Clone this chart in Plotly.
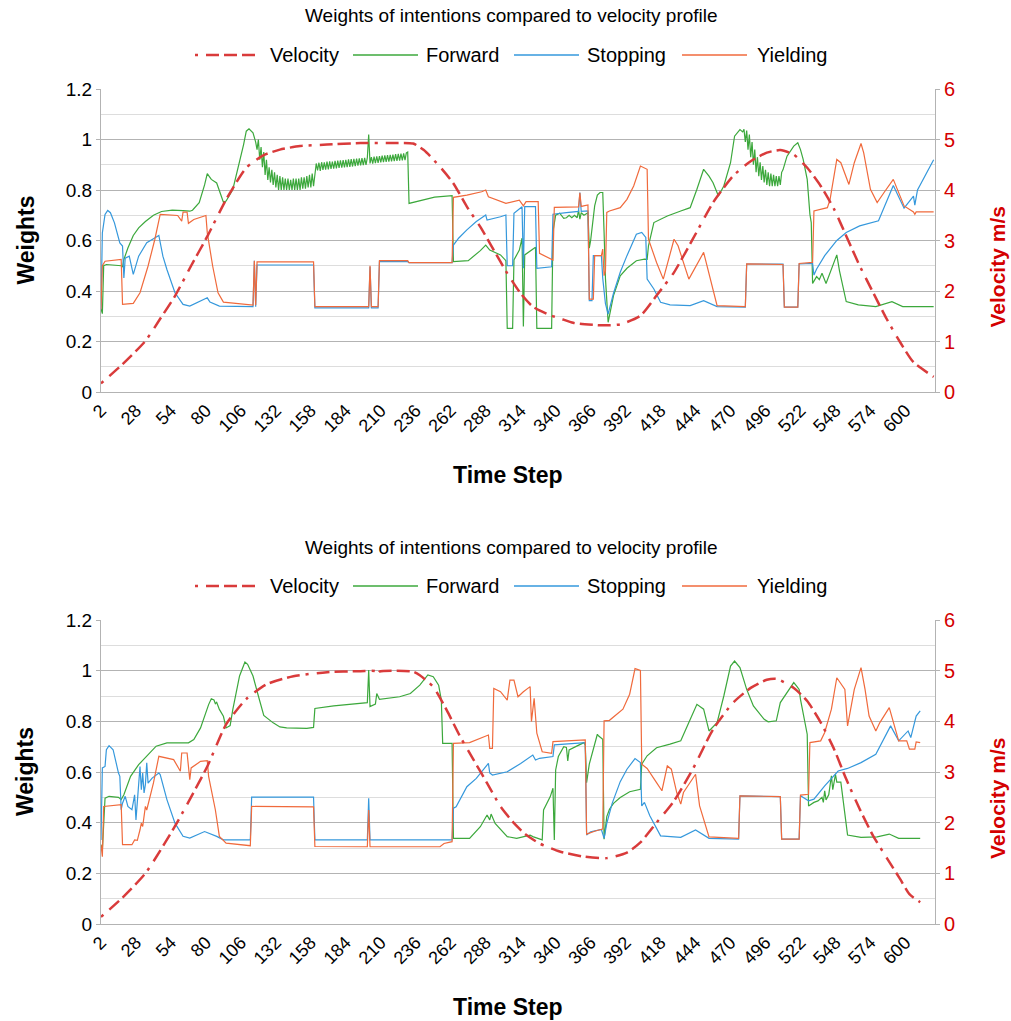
import plotly.graph_objects as go

# ---------------------------------------------------------------- data
STEP_TICKS = list(range(2, 601, 26))
SERIES_NAMES = ["Velocity", "Forward", "Stopping", "Yielding"]
CHART_TITLE = "Weights of intentions compared to velocity profile"

# Upper panel -------------------------------------------------------------
top_velocity = [(2, 0.17), (18, 0.55), (35, 1.01), (46, 1.45), (57, 1.90), (69, 2.50), (81, 3.08),
                (95, 3.81), (110, 4.44), (123, 4.69), (135, 4.80), (150, 4.87), (170, 4.90),
                (195, 4.93), (215, 4.93), (234, 4.92), (242, 4.79), (254, 4.46), (264, 4.13),
                (274, 3.67), (284, 3.27), (294, 2.81), (304, 2.35), (314, 1.95), (323, 1.69),
                (336, 1.52), (343, 1.46), (353, 1.37), (358, 1.35), (375, 1.32), (388, 1.34),
                (403, 1.51), (415, 1.91), (428, 2.37), (442, 3.03), (457, 3.75), (472, 4.28),
                (485, 4.57), (497, 4.74), (507, 4.79), (517, 4.70), (527, 4.44), (537, 4.08),
                (547, 3.62), (556, 3.09), (566, 2.50), (576, 1.97), (586, 1.45), (596, 0.99),
                (606, 0.59), (621, 0.30)]

top_forward = [(2, 0.33), (3, 0.31), (4, 0.50), (6, 0.505), (17, 0.50), (18, 0.495), (19, 0.525),
               (22, 0.57), (26, 0.62), (30, 0.65), (35, 0.675), (41, 0.70), (47, 0.715), (55, 0.72),
               (63, 0.718), (68, 0.716), (70, 0.72), (75, 0.75), (79, 0.82), (81, 0.865), (84, 0.842),
               (88, 0.828), (93, 0.752), (95, 0.756), (100, 0.802), (105, 0.908), (108, 0.98),
               (110, 1.033), (112, 1.042), (115, 1.026), (117, 0.99),
               (118, 0.96), (119, 1.00), (120, 0.92), (121, 0.97), (122, 0.89), (123, 0.95),
               (124, 0.86), (125, 0.92), (126, 0.84), (127, 0.89), (128, 0.83), (129, 0.88),
               (130, 0.82), (131, 0.87), (132, 0.81), (133, 0.86), (134, 0.80), (135, 0.855),
               (136, 0.80), (137, 0.85), (138, 0.80), (139, 0.845), (140, 0.80), (141, 0.845),
               (142, 0.80), (143, 0.84), (144, 0.80), (145, 0.845), (146, 0.80), (147, 0.845),
               (148, 0.80), (149, 0.845), (150, 0.80), (151, 0.85), (152, 0.805), (153, 0.85),
               (154, 0.805), (155, 0.855), (156, 0.81), (157, 0.86), (158, 0.81), (159, 0.865),
               (160, 0.815),
               (161, 0.875), (162, 0.905), (163, 0.878), (164, 0.908), (165, 0.876), (166, 0.910),
               (167, 0.880), (168, 0.909), (169, 0.881), (170, 0.912), (171, 0.882), (172, 0.913),
               (173, 0.884), (174, 0.912), (175, 0.885), (176, 0.915), (177, 0.886), (178, 0.916),
               (179, 0.888), (180, 0.917), (181, 0.889), (182, 0.918), (183, 0.890), (184, 0.919),
               (185, 0.891), (186, 0.921), (187, 0.892), (188, 0.922), (189, 0.893), (190, 0.923),
               (191, 0.894), (192, 0.924), (193, 0.896), (194, 0.925), (195, 0.897), (196, 0.926),
               (197, 0.898), (198, 0.927), (199, 0.899), (200, 0.928), (201, 1.020), (202, 0.905),
               (203, 0.930), (204, 0.904), (205, 0.932), (206, 0.906), (207, 0.933), (208, 0.907),
               (209, 0.934), (210, 0.909), (211, 0.936), (212, 0.910), (213, 0.937), (214, 0.911),
               (215, 0.938), (216, 0.912), (217, 0.939), (218, 0.913), (219, 0.940), (220, 0.914),
               (221, 0.942), (222, 0.915), (223, 0.943), (224, 0.916), (225, 0.944), (226, 0.917),
               (227, 0.945), (228, 0.918), (229, 0.947), (230, 0.950),
               (231, 0.747), (240, 0.76), (250, 0.772), (263, 0.778), (264, 0.516), (275, 0.52),
               (284, 0.56), (288, 0.582), (291, 0.562), (299, 0.543), (303, 0.52), (304, 0.252),
               (308, 0.252), (309, 0.523), (313, 0.562), (315, 0.609), (316, 0.259), (317, 0.543),
               (325, 0.573), (326, 0.252), (337, 0.252), (338, 0.635), (340, 0.70), (343, 0.708),
               (346, 0.688), (348, 0.69), (350, 0.70), (352, 0.69), (354, 0.70), (356, 0.69),
               (357, 0.72), (358, 0.685), (359, 0.71), (361, 0.70), (364, 0.71), (365, 0.57),
               (366, 0.60), (369, 0.737), (371, 0.78), (373, 0.79), (375, 0.79), (376, 0.632),
               (377, 0.45), (379, 0.276), (383, 0.382), (388, 0.46), (393, 0.49), (400, 0.52),
               (406, 0.526), (408, 0.525), (409, 0.579), (413, 0.671), (423, 0.697), (433, 0.717),
               (440, 0.73), (445, 0.803), (450, 0.882), (454, 0.855), (457, 0.829), (461, 0.776),
               (465, 0.816), (470, 0.908), (473, 1.013), (477, 1.039), (479, 1.03), (480, 1.04),
               (481, 0.99), (482, 1.035), (483, 0.96), (484, 1.02), (485, 0.93), (486, 0.99),
               (487, 0.90), (488, 0.96), (489, 0.87), (490, 0.93), (491, 0.855), (492, 0.91),
               (493, 0.84), (494, 0.895), (495, 0.83), (496, 0.88), (497, 0.82), (498, 0.87),
               (499, 0.815), (500, 0.865), (501, 0.815), (502, 0.86), (503, 0.815), (504, 0.855),
               (505, 0.815), (506, 0.855), (507, 0.82), (508, 0.87),
               (509, 0.88), (512, 0.934), (517, 0.974), (520, 0.987), (522, 0.96), (524, 0.921),
               (527, 0.842), (529, 0.704), (530, 0.671), (531, 0.43), (534, 0.457), (536, 0.445),
               (538, 0.47), (541, 0.43), (545, 0.49), (549, 0.543), (551, 0.48), (556, 0.358),
               (565, 0.345), (578, 0.338), (590, 0.358), (598, 0.338), (621, 0.338)]

top_stopping = [(2, 0.327), (3, 0.63), (5, 0.703), (7, 0.719), (9, 0.71), (12, 0.67), (16, 0.59),
                (18, 0.578), (19, 0.452), (20, 0.53), (23, 0.538), (26, 0.466), (30, 0.538),
                (36, 0.591), (41, 0.607), (45, 0.62), (48, 0.538), (51, 0.485), (57, 0.393),
                (63, 0.347), (68, 0.34), (76, 0.36), (81, 0.373), (83, 0.356), (90, 0.34),
                (115, 0.338), (116, 0.52), (117, 0.338), (118, 0.503), (160, 0.503), (161, 0.333),
                (201, 0.333), (202, 0.496), (203, 0.333), (208, 0.333), (209, 0.516), (230, 0.516),
                (231, 0.512), (263, 0.512), (264, 0.582), (268, 0.61), (274, 0.642), (281, 0.675),
                (288, 0.701), (289, 0.681), (299, 0.694), (303, 0.701), (304, 0.50), (308, 0.50),
                (309, 0.708), (315, 0.734), (316, 0.49), (317, 0.734), (325, 0.734), (326, 0.49),
                (337, 0.496), (338, 0.704), (348, 0.71), (357, 0.715), (358, 0.79), (359, 0.715),
                (364, 0.717), (365, 0.362), (367, 0.362), (368, 0.54), (374, 0.54), (375, 0.45),
                (377, 0.35), (379, 0.309), (383, 0.391), (388, 0.474), (393, 0.54), (400, 0.625),
                (404, 0.632), (407, 0.612), (408, 0.447), (413, 0.408), (418, 0.355), (425, 0.345),
                (440, 0.342), (450, 0.362), (460, 0.338), (481, 0.336), (482, 0.507), (509, 0.507),
                (510, 0.336), (520, 0.336), (521, 0.507), (531, 0.509), (532, 0.463), (534, 0.487),
                (540, 0.54), (549, 0.60), (556, 0.632), (566, 0.658), (580, 0.678), (591, 0.818),
                (599, 0.728), (606, 0.776), (607, 0.74), (609, 0.80), (621, 0.92)]

top_yielding = [(2, 0.327), (3, 0.50), (5, 0.518), (17, 0.525), (18, 0.347), (26, 0.351), (31, 0.393),
                (37, 0.499), (42, 0.604), (46, 0.703), (59, 0.699), (62, 0.677), (63, 0.712),
                (66, 0.712), (67, 0.668), (71, 0.683), (80, 0.699), (81, 0.631), (85, 0.499),
                (89, 0.393), (93, 0.356), (115, 0.344), (116, 0.52), (117, 0.344), (118, 0.515),
                (160, 0.515), (161, 0.338), (201, 0.338), (202, 0.50), (203, 0.338), (208, 0.338),
                (209, 0.52), (230, 0.52), (231, 0.512), (263, 0.512), (264, 0.771), (274, 0.78),
                (285, 0.793), (288, 0.80), (290, 0.773), (303, 0.747), (313, 0.76), (316, 0.737),
                (318, 0.754), (327, 0.754), (328, 0.549), (338, 0.523), (339, 0.731), (357, 0.733),
                (358, 0.789), (359, 0.735), (364, 0.741), (365, 0.368), (368, 0.368), (369, 0.54),
                (374, 0.54), (375, 0.566), (376, 0.461), (377, 0.48), (378, 0.711), (380, 0.717),
                (388, 0.73), (393, 0.763), (398, 0.816), (403, 0.895), (408, 0.882), (409, 0.605),
                (415, 0.513), (420, 0.447), (428, 0.605), (431, 0.579), (439, 0.447), (450, 0.553),
                (455, 0.447), (460, 0.342), (481, 0.338), (482, 0.507), (509, 0.505), (510, 0.336),
                (520, 0.336), (521, 0.509), (531, 0.513), (532, 0.717), (542, 0.73), (544, 0.763),
                (549, 0.921), (552, 0.908), (558, 0.822), (562, 0.908), (567, 0.984), (569, 0.947),
                (574, 0.803), (579, 0.75), (584, 0.789), (591, 0.842), (599, 0.737), (606, 0.713),
                (607, 0.704), (608, 0.713), (621, 0.713)]

# Lower panel -------------------------------------------------------------
bottom_velocity = [(2, 0.14), (18, 0.52), (35, 1.00), (57, 1.93), (81, 3.11), (95, 3.94), (110, 4.44),
                   (125, 4.73), (145, 4.89), (170, 4.97), (195, 4.99), (206, 4.99), (207, 4.92),
                   (209, 4.98), (234, 4.98), (239, 4.91), (249, 4.68), (259, 4.22), (269, 3.70),
                   (279, 3.24), (289, 2.78), (299, 2.32), (309, 1.99), (318, 1.76), (328, 1.59),
                   (343, 1.43), (361, 1.33), (378, 1.30), (393, 1.41), (403, 1.61), (415, 2.00),
                   (428, 2.43), (442, 3.06), (457, 3.84), (472, 4.37), (485, 4.66), (497, 4.82),
                   (504, 4.84), (517, 4.66), (527, 4.40), (537, 3.98), (547, 3.45), (556, 2.86),
                   (566, 2.27), (576, 1.74), (586, 1.31), (596, 0.89), (603, 0.59), (611, 0.43)]

bottom_forward = [(2, 0.313), (3, 0.29), (5, 0.497), (8, 0.504), (15, 0.50), (17, 0.491), (19, 0.51),
                  (24, 0.583), (30, 0.629), (36, 0.662), (43, 0.702), (51, 0.715), (67, 0.715),
                  (71, 0.728), (76, 0.774), (82, 0.866), (84, 0.889), (86, 0.884), (87, 0.87),
                  (88, 0.875), (90, 0.847), (93, 0.82), (95, 0.774), (98, 0.783), (100, 0.847),
                  (105, 0.979), (109, 1.034), (111, 1.025), (115, 0.979), (119, 0.90), (123, 0.823),
                  (130, 0.794), (135, 0.778), (140, 0.774), (155, 0.772), (160, 0.776), (161, 0.851),
                  (175, 0.861), (200, 0.874), (201, 1.003), (202, 0.858), (206, 0.868), (207, 0.91),
                  (209, 0.887), (224, 0.897), (232, 0.91), (239, 0.943), (245, 0.983), (249, 0.976),
                  (253, 0.943), (255, 0.884), (256, 0.713), (263, 0.713), (264, 0.338), (276, 0.338),
                  (284, 0.384), (289, 0.43), (291, 0.411), (292, 0.434), (295, 0.397), (304, 0.345),
                  (311, 0.338), (321, 0.351), (323, 0.345), (330, 0.332), (331, 0.45), (336, 0.503),
                  (338, 0.536), (339, 0.332), (340, 0.608), (342, 0.661), (346, 0.70), (348, 0.697),
                  (349, 0.644), (350, 0.687), (356, 0.703), (361, 0.716), (362, 0.707), (363, 0.558),
                  (365, 0.631), (369, 0.713), (371, 0.749), (372, 0.742), (375, 0.729), (376, 0.335),
                  (378, 0.424), (380, 0.453), (383, 0.476), (388, 0.499), (395, 0.522), (403, 0.532),
                  (404, 0.631), (408, 0.664), (415, 0.696), (425, 0.71), (433, 0.723), (439, 0.795),
                  (445, 0.867), (450, 0.848), (454, 0.762), (460, 0.795), (465, 0.90), (470, 1.018),
                  (473, 1.038), (477, 1.012), (482, 0.926), (487, 0.861), (495, 0.808), (498, 0.798),
                  (504, 0.802), (507, 0.874), (512, 0.913), (517, 0.953), (519, 0.94), (521, 0.926),
                  (522, 0.887), (527, 0.749), (528, 0.466), (532, 0.48), (535, 0.486), (538, 0.50),
                  (539, 0.48), (540, 0.526), (541, 0.49), (543, 0.51), (545, 0.585), (546, 0.53),
                  (548, 0.591), (549, 0.56), (552, 0.56), (556, 0.388), (557, 0.351), (567, 0.342),
                  (579, 0.344), (588, 0.355), (595, 0.338), (611, 0.338)]

bottom_stopping = [(2, 0.332), (3, 0.616), (5, 0.622), (6, 0.688), (8, 0.704), (11, 0.688), (15, 0.596),
                   (16, 0.583), (17, 0.451), (18, 0.477), (20, 0.504), (22, 0.464), (25, 0.451),
                   (27, 0.51), (28, 0.411), (31, 0.622), (32, 0.53), (33, 0.596), (34, 0.517),
                   (35, 0.55), (36, 0.636), (37, 0.556), (40, 0.576), (45, 0.596), (46, 0.59),
                   (51, 0.491), (57, 0.398), (63, 0.346), (68, 0.339), (79, 0.365), (88, 0.346),
                   (93, 0.332), (113, 0.332), (114, 0.501), (160, 0.501), (161, 0.332), (200, 0.332),
                   (201, 0.496), (202, 0.332), (263, 0.332), (264, 0.457), (266, 0.463), (274, 0.542),
                   (281, 0.575), (290, 0.634), (291, 0.596), (293, 0.588), (304, 0.601), (314, 0.634),
                   (321, 0.661), (323, 0.667), (325, 0.647), (328, 0.654), (338, 0.661), (339, 0.707),
                   (362, 0.716), (363, 0.351), (366, 0.364), (374, 0.373), (376, 0.338), (378, 0.397),
                   (382, 0.476), (388, 0.562), (393, 0.611), (399, 0.653), (403, 0.637), (404, 0.466),
                   (406, 0.48), (410, 0.427), (418, 0.348), (433, 0.342), (444, 0.371), (454, 0.338),
                   (476, 0.335), (477, 0.506), (507, 0.503), (508, 0.335), (521, 0.335), (522, 0.506),
                   (528, 0.486), (532, 0.493), (540, 0.545), (550, 0.604), (557, 0.614), (567, 0.637),
                   (578, 0.67), (589, 0.782), (595, 0.723), (602, 0.762), (604, 0.736), (608, 0.821),
                   (611, 0.841)]

bottom_yielding = [(2, 0.313), (3, 0.266), (4, 0.464), (17, 0.471), (18, 0.313), (25, 0.313), (27, 0.332),
                   (29, 0.33), (31, 0.372), (32, 0.398), (33, 0.385), (35, 0.464), (36, 0.45),
                   (41, 0.557), (45, 0.662), (56, 0.649), (61, 0.603), (62, 0.675), (66, 0.675),
                   (68, 0.57), (69, 0.616), (76, 0.642), (81, 0.645), (82, 0.583), (87, 0.451),
                   (90, 0.346), (95, 0.319), (113, 0.309), (114, 0.464), (160, 0.462), (161, 0.306),
                   (200, 0.305), (201, 0.45), (202, 0.305), (254, 0.305), (257, 0.318), (263, 0.325),
                   (264, 0.713), (276, 0.716), (290, 0.746), (291, 0.693), (293, 0.693), (294, 0.93),
                   (299, 0.917), (304, 0.884), (306, 0.963), (309, 0.963), (312, 0.897), (316, 0.917),
                   (321, 0.937), (322, 0.799), (324, 0.891), (326, 0.753), (330, 0.68), (337, 0.674),
                   (338, 0.72), (362, 0.727), (363, 0.355), (370, 0.368), (375, 0.375), (376, 0.802),
                   (380, 0.804), (390, 0.848), (395, 0.907), (399, 1.008), (403, 1.001), (404, 0.631),
                   (408, 0.614), (415, 0.558), (419, 0.526), (423, 0.624), (426, 0.611), (430, 0.519),
                   (433, 0.473), (435, 0.519), (444, 0.591), (447, 0.466), (454, 0.344), (476, 0.338),
                   (477, 0.506), (507, 0.503), (508, 0.335), (521, 0.335), (522, 0.509), (528, 0.512),
                   (529, 0.716), (537, 0.723), (540, 0.756), (545, 0.848), (549, 0.972), (555, 0.926),
                   (557, 0.782), (562, 0.926), (567, 1.012), (570, 0.926), (573, 0.821), (578, 0.762),
                   (581, 0.795), (588, 0.854), (595, 0.723), (601, 0.723), (603, 0.69), (607, 0.69),
                   (608, 0.719), (611, 0.716)]

# ---------------------------------------------------------------- styling
W, H = 1011, 1021
FONT = "Liberation Sans, Arial, sans-serif"
RED_AXIS = "#d40000"
COLORS = {"Velocity": "#d93b3b", "Forward": "#3ca83c", "Stopping": "#3598dc", "Yielding": "#f06a3c"}
# one dot followed by three dashes
VEL_DASH = "3px,8px,13px,5px,13px,5px,13px,6px"
MAJOR_GRID = "#b3b3b3"
MINOR_GRID = "#dddddd"
X_LEFT, X_RIGHT = 101, 935
PANELS = [  # (plot top px, plot bottom px)
    (89, 392),
    (620, 924),
]


def px(x):
    return x / W


def py(y):
    return 1 - y / H


def unzip(pairs):
    return [p[0] for p in pairs], [p[1] for p in pairs]


fig = go.Figure()
panel_data = [
    (top_velocity, top_forward, top_stopping, top_yielding),
    (bottom_velocity, bottom_forward, bottom_stopping, bottom_yielding),
]

annotations = []
shapes = []
for i, ((top_px, bot_px), series) in enumerate(zip(PANELS, panel_data)):
    xa = "x" if i == 0 else "x2"
    ya = "y" if i == 0 else "y3"
    ya_r = "y2" if i == 0 else "y4"
    vel, fwd, stp, yld = series

    for name, pairs in zip(SERIES_NAMES[1:], (fwd, stp, yld)):
        xs, ys = unzip(pairs)
        fig.add_trace(go.Scatter(x=xs, y=ys, mode="lines", name=name, xaxis=xa, yaxis=ya,
                                 line=dict(color=COLORS[name], width=1.2), showlegend=False))
    xs, ys = unzip(vel)
    fig.add_trace(go.Scatter(x=xs, y=ys, mode="lines", name="Velocity", xaxis=xa, yaxis=ya_r,
                             line=dict(color=COLORS["Velocity"], width=2.5, dash=VEL_DASH,
                                       shape="spline", smoothing=0.6),
                             showlegend=False))

    dom_y = [py(bot_px), py(top_px)]
    dom_x = [px(X_LEFT), px(X_RIGHT)]
    sfx = "" if i == 0 else "2"
    ysfx_l = "" if i == 0 else "3"
    ysfx_r = "2" if i == 0 else "4"
    fig.update_layout(**{
        "xaxis" + sfx: dict(domain=dom_x, anchor=ya, range=[2, 622], tickmode="array",
                            tickvals=STEP_TICKS, ticktext=[str(t) for t in STEP_TICKS],
                            tickangle=-45, showgrid=False, zeroline=False, showline=True,
                            linecolor=MAJOR_GRID, linewidth=1, ticks="", automargin=False,
                            tickfont=dict(size=18, color="black", family=FONT)),
        "yaxis" + ysfx_l: dict(domain=dom_y, anchor=xa, range=[0, 1.2], tickmode="linear", tick0=0,
                               dtick=0.2, showgrid=True, gridcolor=MAJOR_GRID, gridwidth=1,
                               minor=dict(tick0=0, dtick=0.1, showgrid=True, gridcolor=MINOR_GRID,
                                          gridwidth=1),
                               zeroline=False, showline=True, linecolor=MAJOR_GRID, linewidth=1,
                               ticks="outside", ticklen=4, tickcolor=MAJOR_GRID, automargin=False,
                               tickfont=dict(size=19, color="black", family=FONT)),
        "yaxis" + ysfx_r: dict(overlaying=ya, side="right", anchor=xa, range=[0, 6],
                               tickmode="linear", tick0=0, dtick=1, showgrid=False, zeroline=False,
                               showline=True, linecolor=MAJOR_GRID, linewidth=1, ticks="outside",
                               ticklen=4, tickcolor=MAJOR_GRID, automargin=False,
                               tickfont=dict(size=20, color=RED_AXIS, family=FONT)),
    })

    # chart title
    annotations.append(dict(text=CHART_TITLE, x=px(511), y=py(top_px - 73), xref="paper",
                            yref="paper", showarrow=False, xanchor="center", yanchor="middle",
                            font=dict(size=19, color="black", family=FONT)))
    # legend row
    leg_y = top_px - 34
    swatches = [(195, 260, 268), (353, 418, 424), (514, 579, 585), (682, 747, 755)]
    for name, (x0, x1, tx) in zip(SERIES_NAMES, swatches):
        line = dict(color=COLORS[name], width=1.5)
        if name == "Velocity":
            line = dict(color=COLORS[name], width=2.5, dash=VEL_DASH)
        shapes.append(dict(type="line", xref="paper", yref="paper", x0=px(x0), x1=px(x1),
                           y0=py(leg_y), y1=py(leg_y), line=line))
        annotations.append(dict(text=name, x=px(tx), y=py(leg_y), xref="paper", yref="paper",
                                showarrow=False, xanchor="left", yanchor="middle",
                                font=dict(size=20, color="black", family=FONT)))
    # axis titles
    mid = (top_px + bot_px) / 2
    annotations.append(dict(text="<b>Weights</b>", x=px(25), y=py(mid), xref="paper", yref="paper",
                            showarrow=False, textangle=-90, xanchor="center", yanchor="middle",
                            font=dict(size=23, color="black", family=FONT)))
    annotations.append(dict(text="<b>Velocity m/s</b>", x=px(997), y=py(mid + 27), xref="paper",
                            yref="paper", showarrow=False, textangle=-90, xanchor="center",
                            yanchor="middle", font=dict(size=21, color=RED_AXIS, family=FONT)))
    annotations.append(dict(text="<b>Time Step</b>", x=px(508), y=py(bot_px + 83), xref="paper",
                            yref="paper", showarrow=False, xanchor="center", yanchor="middle",
                            font=dict(size=23, color="black", family=FONT)))

fig.update_layout(width=W, height=H, margin=dict(l=0, r=0, t=0, b=0, pad=0, autoexpand=False),
                  autosize=False, plot_bgcolor="white", paper_bgcolor="white", showlegend=False,
                  font=dict(family=FONT, color="black"), annotations=annotations, shapes=shapes)

fig.write_html("out.html")
